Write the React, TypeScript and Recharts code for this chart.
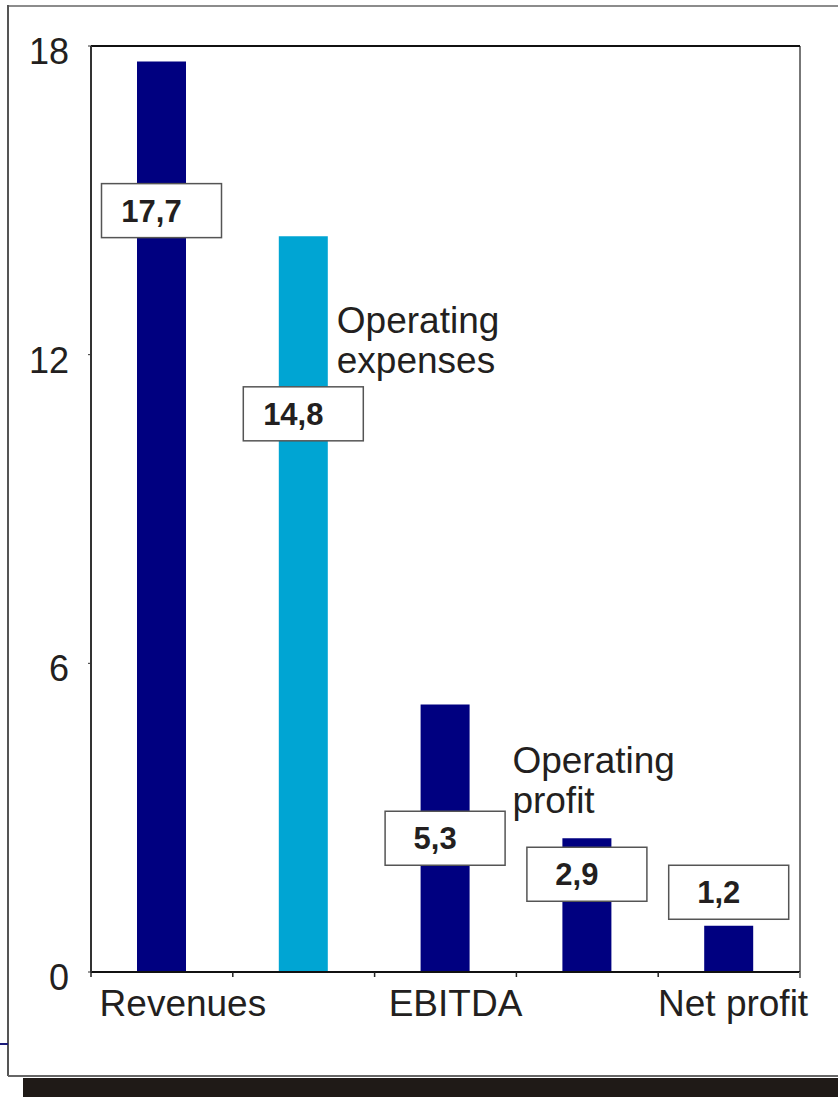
import React from "react";
import { BarChart, Bar, XAxis, YAxis, Cell, ReferenceLine } from "recharts";

// chart data
const categories = ["Revenues", "Operating expenses", "EBITDA", "Operating profit", "Net profit"];
const values = [17.7, 14.3, 5.2, 2.6, 0.9];
const valueLabels = ["17,7", "14,8", "5,3", "2,9", "1,2"];
const yTicks = [0, 6, 12, 18];

// where the value boxes sit (in axis units)
const labelAt = [14.8, 10.85, 2.6, 1.9, 1.55];

// names drawn inside the plot instead of under the axis
const innerNames: (string[] | null)[] = [null, ["Operating", "expenses"], null, ["Operating", "profit"], null];
const innerNameAt = [0, 12.42, 0, 3.87, 0];
const innerNameDx = [0, 58, 0, -50, 0];
const axisNameShift = [21, 0, 10, 0, 4];

const barColors = ["#000080", "#00a5d3", "#000080", "#000080", "#000080"];

const data = categories.map((name, i) => ({ name, value: values[i] }));

const FONT = "'Liberation Sans', Arial, sans-serif";
const INK = "#231f20";

function ValueBox(props: any) {
  const { x, y, width, height, index, value } = props;
  const zeroY = y + height;
  const perUnit = height / value;
  const cx = x + width / 2;
  const cy = zeroY - labelAt[index] * perUnit;
  const names = innerNames[index];
  return (
    <g>
      <rect x={cx - 60} y={cy - 27} width={120} height={54} fill="#fff" stroke="#555" strokeWidth={1.5} />
      <text x={cx - 10} y={cy} dy="0.36em" textAnchor="middle" fontFamily={FONT} fontWeight="bold" fontSize={31} fill={INK}>
        {valueLabels[index]}
      </text>
      {names &&
        names.map((line, k) => (
          <text
            key={k}
            x={x + innerNameDx[index]}
            y={zeroY - innerNameAt[index] * perUnit + k * 40}
            fontFamily={FONT}
            fontSize={37}
            fill={INK}
          >
            {line}
          </text>
        ))}
    </g>
  );
}

function CategoryTick(props: any) {
  const { x, y, payload, index, visibleTicksCount } = props;
  const half = payload.offset || 70.9;
  const last = index === (visibleTicksCount ?? categories.length) - 1;
  return (
    <g>
      <line x1={x - half} x2={x - half} y1={y} y2={y + 5} stroke="#222" strokeWidth={1.5} />
      {last && <line x1={x + half} x2={x + half} y1={y} y2={y + 6} stroke="#777" strokeWidth={2} />}
      {!innerNames[index] && (
        <text x={x + axisNameShift[index]} y={y + 44} textAnchor="middle" fontFamily={FONT} fontSize={37} fill={INK}>
          {payload.value}
        </text>
      )}
    </g>
  );
}

function ValueTick(props: any) {
  const { x, y, payload } = props;
  return (
    <text x={x} y={y + 18} textAnchor="end" fontFamily={FONT} fontSize={36} fill={INK}>
      {payload.value}
    </text>
  );
}

export default function App() {
  return (
    <div style={{ position: "absolute", left: 0, top: 0, width: 838, height: 1097, background: "#fff", overflow: "hidden" }}>
      {/* frame */}
      <div style={{ position: "absolute", left: 8, top: 5, width: 830, height: 0, borderTop: "2px solid #8c8c8c" }} />
      <div style={{ position: "absolute", left: 7, top: 5, width: 0, height: 1071, borderLeft: "2px solid #555" }} />
      <div style={{ position: "absolute", left: 8, top: 1075, width: 830, height: 0, borderTop: "2px solid #666" }} />
      <div style={{ position: "absolute", left: 23, top: 1078, width: 815, height: 19, background: "#1f1a17" }} />
      <div style={{ position: "absolute", left: 0, top: 1043, width: 8, height: 2, background: "#1b1b7a" }} />
      {/* right edge of the plot box */}
      <div style={{ position: "absolute", left: 799, top: 46, width: 0, height: 927, borderLeft: "2px solid #777" }} />

      <div style={{ position: "absolute", left: 0, top: 0 }}>
        <BarChart width={838} height={1097} data={data} margin={{ top: 46, right: 38, left: 0, bottom: 0 }}>
          <XAxis
            dataKey="name"
            height={125}
            tickLine={false}
            tickSize={0}
            tickMargin={0}
            interval={0}
            axisLine={{ stroke: "#111", strokeWidth: 2 }}
            tick={<CategoryTick />}
          />
          <YAxis
            width={91}
            domain={[0, 18]}
            ticks={yTicks}
            interval={0}
            tickSize={3}
            tickMargin={19}
            axisLine={{ stroke: "#333", strokeWidth: 2 }}
            tickLine={{ stroke: "#333" }}
            tick={<ValueTick />}
          />
          <ReferenceLine y={18} stroke="#111" strokeWidth={2} />
          <Bar dataKey="value" barSize={49} isAnimationActive={false} label={(p: any) => <ValueBox {...p} />}>
            {data.map((d, i) => (
              <Cell key={d.name} fill={barColors[i]} />
            ))}
          </Bar>
        </BarChart>
      </div>
    </div>
  );
}
